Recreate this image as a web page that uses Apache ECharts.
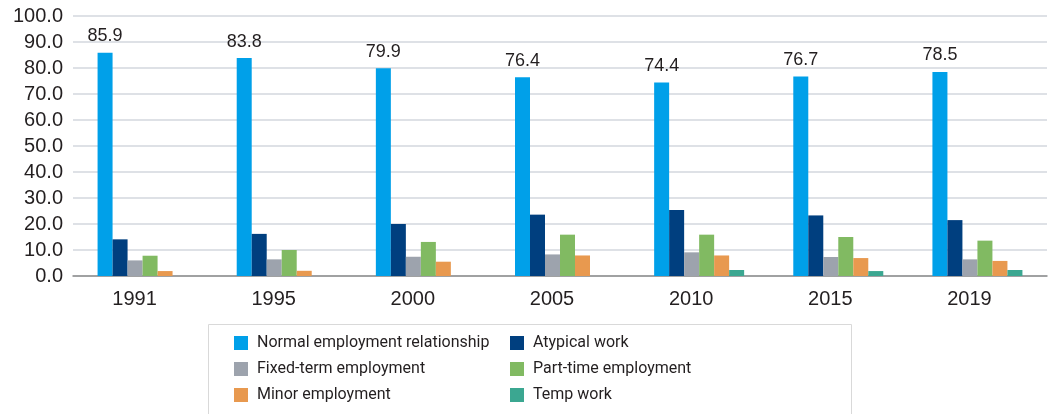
<!DOCTYPE html>
<html>
<head>
<meta charset="utf-8">
<script src="https://cdn.jsdelivr.net/npm/echarts@6/dist/echarts.min.js"></script>
<style>
  html, body { margin: 0; padding: 0; background: #fff; }
  #chart { width: 1049px; height: 414px; }
</style>
</head>
<body>
<div id="chart"></div>
<script>
// Employment forms by year, share in percent
const years = ['1991', '1995', '2000', '2005', '2010', '2015', '2019'];
const yTicks = { min: 0, max: 100, interval: 10 };

const normalEmployment = [85.9, 83.8, 79.9, 76.4, 74.4, 76.7, 78.5];
const atypicalWork     = [14.1, 16.2, 20.0, 23.6, 25.4, 23.3, 21.5];
const fixedTerm        = [6.0, 6.4, 7.4, 8.3, 9.1, 7.3, 6.4];
const partTime         = [7.8, 10.0, 13.1, 15.9, 15.9, 15.0, 13.6];
const minorEmployment  = [1.9, 2.0, 5.5, 7.9, 7.9, 6.9, 5.8];
const tempWork         = [null, null, null, null, 2.3, 1.9, 2.3];

const seriesDefs = [
  { name: 'Normal employment relationship', data: normalEmployment, color: '#00A0E9', label: true },
  { name: 'Atypical work', data: atypicalWork, color: '#003F7F' },
  { name: 'Fixed-term employment', data: fixedTerm, color: '#9DA3AD' },
  { name: 'Part-time employment', data: partTime, color: '#81BA62' },
  { name: 'Minor employment', data: minorEmployment, color: '#E8994F' },
  { name: 'Temp work', data: tempWork, color: '#3BA791' }
];

const textColor = '#231F20';
const numFont = '"Liberation Sans", Arial, sans-serif';
const legendFont = 'Roboto, "Liberation Sans", sans-serif';

const chart = echarts.init(document.getElementById('chart'), null, { renderer: 'canvas' });

const legendCommon = {
  orient: 'vertical',
  top: 333,
  padding: 0,
  itemWidth: 14,
  itemHeight: 14,
  itemGap: 6,
  icon: 'rect',
  selectedMode: false,
  textStyle: { color: textColor, fontFamily: legendFont, fontSize: 16, lineHeight: 20, padding: [0, 0, 0, 4] }
};

chart.setOption({
  animation: false,
  grid: { left: 73, right: 2, top: 16, bottom: 138, containLabel: false },
  graphic: [{
    type: 'rect',
    shape: { x: 208.5, y: 324.5, width: 643, height: 100 },
    style: { fill: 'none', stroke: '#D9D9D9', lineWidth: 1 },
    silent: true
  }],
  legend: [
    Object.assign({}, legendCommon, { left: 234, data: [seriesDefs[0].name, seriesDefs[2].name, seriesDefs[4].name] }),
    Object.assign({}, legendCommon, { left: 510, data: [seriesDefs[1].name, seriesDefs[3].name, seriesDefs[5].name] })
  ],
  xAxis: {
    type: 'category',
    data: years,
    axisLine: { lineStyle: { color: '#8C8C8C', width: 1.5 } },
    axisTick: { show: false },
    axisLabel: { color: textColor, fontFamily: numFont, fontSize: 20, margin: 13, padding: [0, 16, 0, 0] }
  },
  yAxis: {
    type: 'value',
    min: yTicks.min,
    max: yTicks.max,
    interval: yTicks.interval,
    axisLine: { show: false },
    axisTick: { show: false },
    splitLine: { lineStyle: { color: '#D3D7DE', width: 1.5 } },
    axisLabel: {
      color: textColor, fontFamily: numFont, fontSize: 20, margin: 10,
      formatter: v => v.toFixed(1)
    }
  },
  series: seriesDefs.map(s => ({
    name: s.name,
    type: 'bar',
    data: s.data,
    barWidth: 15,
    barGap: '0%',
    itemStyle: { color: s.color },
    label: s.label ? {
      show: true, position: 'top', distance: 7.5,
      color: textColor, fontFamily: numFont, fontSize: 18,
      formatter: p => p.value.toFixed(1)
    } : { show: false }
  }))
});
</script>
</body>
</html>
